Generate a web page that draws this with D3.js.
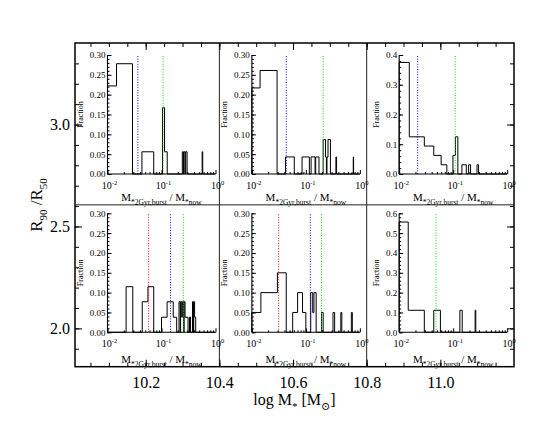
<!DOCTYPE html>
<html>
<head>
<meta charset="utf-8">
<script src="https://cdn.jsdelivr.net/npm/d3@7/dist/d3.min.js"></script>
<style>
  body { margin: 0; background: #fff; }
  svg { display: block; }
  text { font-family: "Liberation Serif", "Times New Roman", "DejaVu Serif", serif; fill: #000; }
</style>
</head>
<body>
<svg width="540" height="432"></svg>
<script>
/* global d3 */

// outer axes: stellar mass vs concentration
const massRange = [10.008, 11.2];
const concRange = [1.812, 3.4];
const massTicks = [10.2, 10.4, 10.6, 10.8, 11.0];
const concTicks = [2.0, 2.5, 3.0];
const massBorders = [10.4, 10.8];

// insets: burst mass fraction histograms, one per panel, [lo, hi, fraction]
const histA = [
    [0.01, 0.0147, 0.222], [0.0147, 0.029, 0.278], [0.0434, 0.0718, 0.056],
    [0.1044, 0.1138, 0.167], [0.1138, 0.1277, 0.056],
    [0.243, 0.255, 0.056], [0.262, 0.274, 0.056], [0.281, 0.298, 0.056],
    [0.566, 0.58, 0.056]
];
const histB = [
    [0.01, 0.0142, 0.217], [0.0142, 0.0293, 0.261], [0.042, 0.061, 0.043],
    [0.085, 0.116, 0.043], [0.125, 0.148, 0.043], [0.152, 0.175, 0.043],
    [0.209, 0.231, 0.087], [0.231, 0.24, 0.043], [0.246, 0.257, 0.043],
    [0.257, 0.285, 0.087], [0.36, 0.37, 0.043], [0.755, 0.765, 0.043]
];
const histC = [
    [0.01, 0.0154, 0.375], [0.0154, 0.0292, 0.125], [0.0292, 0.0437, 0.094],
    [0.0437, 0.0598, 0.0625], [0.0598, 0.0763, 0.031],
    [0.099, 0.11, 0.0625], [0.11, 0.122, 0.125],
    [0.145, 0.16, 0.031], [0.16, 0.175, 0.031], [0.193, 0.21, 0.031],
    [0.276, 0.295, 0.031]
];
const histD = [
    [0.0221, 0.0294, 0.115], [0.044, 0.0561, 0.077], [0.0561, 0.0718, 0.115],
    [0.1, 0.127, 0.038], [0.127, 0.165, 0.077], [0.165, 0.191, 0.038],
    [0.211, 0.222, 0.077], [0.226, 0.237, 0.077], [0.237, 0.243, 0.038],
    [0.243, 0.258, 0.077], [0.262, 0.273, 0.077], [0.273, 0.31, 0.038],
    [0.33, 0.345, 0.038], [0.375, 0.39, 0.077], [0.395, 0.41, 0.077],
    [0.41, 0.43, 0.038]
];
const histE = [
    [0.01, 0.0147, 0.05], [0.0147, 0.0297, 0.10], [0.0297, 0.0433, 0.15],
    [0.057, 0.0703, 0.05], [0.0703, 0.0867, 0.10], [0.0867, 0.1, 0.05],
    [0.123, 0.134, 0.10], [0.134, 0.141, 0.05], [0.141, 0.155, 0.10],
    [0.195, 0.209, 0.05], [0.318, 0.341, 0.05], [0.444, 0.463, 0.05],
    [0.695, 0.725, 0.05]
];
const histF = [
    [0.01, 0.0147, 0.556], [0.0147, 0.0292, 0.111], [0.0437, 0.058, 0.111],
    [0.133, 0.147, 0.111], [0.255, 0.262, 0.111]
];
const histograms = [histA, histB, histC, histD, histE, histF];

// marker lines in each inset (null = not drawn)
const redLines = [null, null, null, 0.0578, 0.0313, null];
const blueLines = [0.0365, 0.0433, 0.022, 0.147, 0.121, null];
const greenLines = [0.107, 0.209, 0.109, 0.254, 0.195, 0.048];

// inset y axes
const fracMax = [0.30, 0.30, 0.4, 0.30, 0.30, 0.6];
const fracStep = [0.05, 0.05, 0.1, 0.05, 0.05, 0.1];
const ratioTicks = [0.01, 0.1, 1];
const ratioTickLabels = ['-2', '-1', '0'];

const svg = d3.select('svg');
const frameL = 75, frameR = 514, frameT = 43, frameB = 366.7;
const x = d3.scaleLinear().domain(massRange).range([frameL, frameR]);
const y = d3.scaleLinear().domain(concRange).range([frameB, frameT]);
const rowTop = [frameT, (frameT + frameB) / 2];
const rowBottom = [(frameT + frameB) / 2, frameB];
const colLeft = [frameL, x(massBorders[0]), x(massBorders[1])];
const colRight = [x(massBorders[0]), x(massBorders[1]), frameR];
const insetTop = [55, 213.3];
const insetHeight = 119;
const insetWidth = 108;

function richText(sel, parts, size, small) {
    let shift = 0;
    parts.forEach(function (p) {
        const target = p[1] === 'sub' ? size * 0.3 : p[1] === 'sup' ? -size * 0.42 : 0;
        sel.append('tspan')
            .attr('dy', target - shift)
            .attr('font-size', p[1] ? small : size)
            .text(p[0]);
        shift = target;
    });
}

function styleAxis(g, size) {
    g.attr('font-family', null).attr('font-size', size);
    g.selectAll('.tick line').attr('stroke', '#000');
    g.select('.domain').remove();
}

// ---- outer frame and panel dividers
svg.append('g').selectAll('line')
    .data(massBorders)
    .enter().append('line')
    .attr('x1', d => x(d)).attr('x2', d => x(d))
    .attr('y1', frameT).attr('y2', frameB)
    .attr('stroke', '#222').attr('stroke-width', 1);
svg.append('line')
    .attr('x1', frameL).attr('x2', frameR)
    .attr('y1', rowBottom[0]).attr('y2', rowBottom[0])
    .attr('stroke', '#222').attr('stroke-width', 1);

// ---- outer ticks
const massMinor = d3.range(40, 224, 1).map(d => d * 0.05).filter(d => d > massRange[0] && d < massRange[1]);
const concMinor = d3.range(18, 35, 1).map(d => d * 0.1).filter(d => d > concRange[0] && d < concRange[1]);

const xb = svg.append('g').attr('transform', `translate(0,${frameB})`)
    .call(d3.axisBottom(x).tickValues(massTicks).tickSize(-7).tickSizeOuter(0)
        .tickPadding(10).tickFormat(d3.format('.1f')));
styleAxis(xb, 16);
styleAxis(svg.append('g').attr('transform', `translate(0,${frameB})`)
    .call(d3.axisBottom(x).tickValues(massMinor).tickSize(-4).tickFormat('')), 16);
styleAxis(svg.append('g').attr('transform', `translate(0,${frameT})`)
    .call(d3.axisTop(x).tickValues(massTicks).tickSize(-7).tickFormat('')), 16);
styleAxis(svg.append('g').attr('transform', `translate(0,${frameT})`)
    .call(d3.axisTop(x).tickValues(massMinor).tickSize(-4).tickFormat('')), 16);

const yl = svg.append('g').attr('transform', `translate(${frameL},0)`)
    .call(d3.axisLeft(y).tickValues(concTicks).tickSize(-7).tickSizeOuter(0)
        .tickPadding(5).tickFormat(d3.format('.1f')));
styleAxis(yl, 16);
styleAxis(svg.append('g').attr('transform', `translate(${frameL},0)`)
    .call(d3.axisLeft(y).tickValues(concMinor).tickSize(-4).tickFormat('')), 16);
styleAxis(svg.append('g').attr('transform', `translate(${frameR},0)`)
    .call(d3.axisRight(y).tickValues(concTicks).tickSize(-7).tickFormat('')), 16);
styleAxis(svg.append('g').attr('transform', `translate(${frameR},0)`)
    .call(d3.axisRight(y).tickValues(concMinor).tickSize(-4).tickFormat('')), 16);

svg.append('rect')
    .attr('x', frameL).attr('y', frameT)
    .attr('width', frameR - frameL).attr('height', frameB - frameT)
    .attr('fill', 'none').attr('stroke', '#000').attr('stroke-width', 1.5);

// axis titles
richText(svg.append('text')
    .attr('transform', 'translate(42,205) rotate(-90)')
    .attr('text-anchor', 'middle'),
[['R', ''], ['90', 'sub'], [' /R', ''], ['50', 'sub']], 17, 11);

richText(svg.append('text')
    .attr('x', 294.5).attr('y', 405)
    .attr('text-anchor', 'middle'),
[['log M', ''], ['*', 'sub'], [' [M', ''], ['\u2299', 'sub'], [']', '']], 16, 11);

// ---- insets
histograms.forEach(function (hist, i) {
    const row = Math.floor(i / 3);
    const col = i % 3;
    const left = colLeft[col] + 32.5;
    const top = insetTop[row];
    const bottom = top + insetHeight;

    const xs = d3.scaleLog().domain([0.01, 1]).range([left, left + insetWidth]);
    const ys = d3.scaleLinear().domain([0, fracMax[i]]).range([bottom, top]);
    const g = svg.append('g');

    // histogram as steps
    const pts = [[xs(0.01), ys(0)]];
    let prev = 0.01;
    hist.forEach(function (b) {
        if (Math.abs(b[0] - prev) > 1e-9) {
            pts.push([xs(prev), ys(0)], [xs(b[0]), ys(0)]);
        }
        pts.push([xs(b[0]), ys(b[2])], [xs(b[1]), ys(b[2])]);
        prev = b[1];
    });
    pts.push([xs(prev), ys(0)], [xs(1), ys(0)]);
    g.append('path')
        .attr('d', d3.line()(pts))
        .attr('fill', 'none')
        .attr('stroke', '#000')
        .attr('stroke-width', 1);

    // marker lines
    [[redLines[i], '#ff0000'], [blueLines[i], '#0000ff'], [greenLines[i], '#00e000']]
        .filter(d => d[0] !== null)
        .forEach(function (d) {
            g.append('line')
                .attr('x1', xs(d[0])).attr('x2', xs(d[0]))
                .attr('y1', ys(0)).attr('y2', ys(fracMax[i]))
                .attr('stroke', d[1])
                .attr('stroke-width', 1)
                .attr('stroke-dasharray', '1,1.6');
        });

    // y axis
    const step = fracStep[i];
    const nMajor = Math.round(fracMax[i] / step);
    const yMajor = d3.range(0, nMajor + 1).map(k => k * step);
    const yMinor = d3.range(0, nMajor * 5 + 1).map(k => k * step / 5);
    const fmt = d3.format(step < 0.1 ? '.2f' : '.1f');
    const ya = g.append('g').attr('transform', `translate(${left},0)`)
        .call(d3.axisLeft(ys).tickValues(yMajor).tickSize(-4).tickPadding(2).tickFormat(fmt));
    styleAxis(ya, 9);
    styleAxis(g.append('g').attr('transform', `translate(${left},0)`)
        .call(d3.axisLeft(ys).tickValues(yMinor).tickSize(-2).tickFormat('')), 9);

    // x axis
    const xMinor = [];
    [0.01, 0.1].forEach(function (dec) {
        for (let m = 2; m <= 9; m++) xMinor.push(dec * m);
    });
    const xa = g.append('g').attr('transform', `translate(0,${bottom})`)
        .call(d3.axisBottom(xs).tickValues(ratioTicks).tickSize(-4).tickFormat(''));
    styleAxis(xa, 10);
    styleAxis(g.append('g').attr('transform', `translate(0,${bottom})`)
        .call(d3.axisBottom(xs).tickValues(xMinor).tickSize(-2).tickFormat('')), 10);

    g.append('line')
        .attr('x1', left).attr('x2', left)
        .attr('y1', bottom).attr('y2', top)
        .attr('stroke', '#000').attr('stroke-width', 1.1);
    g.append('line')
        .attr('x1', left).attr('x2', left + insetWidth)
        .attr('y1', bottom).attr('y2', bottom)
        .attr('stroke', '#000').attr('stroke-width', 1.1);

    ratioTicks.forEach(function (t, k) {
        richText(g.append('text')
            .attr('x', xs(t) + 2).attr('y', bottom + 15)
            .attr('text-anchor', 'middle'),
        [['10', ''], [ratioTickLabels[k], 'sup']], 10, 6.5);
    });

    g.append('text')
        .attr('transform', `translate(${left - (step < 0.1 ? 25 : 20)},${(top + bottom) / 2}) rotate(-90)`)
        .attr('text-anchor', 'middle')
        .attr('font-size', 8)
        .text('Fraction');

    richText(g.append('text')
        .attr('x', left + insetWidth / 2).attr('y', rowBottom[row] - 3.5)
        .attr('text-anchor', 'middle'),
    [['M', ''], ['*2Gyr,burst', 'sub'], [' / M', ''], ['*now', 'sub']], 11, 7.5);
});
</script>
</body>
</html>
